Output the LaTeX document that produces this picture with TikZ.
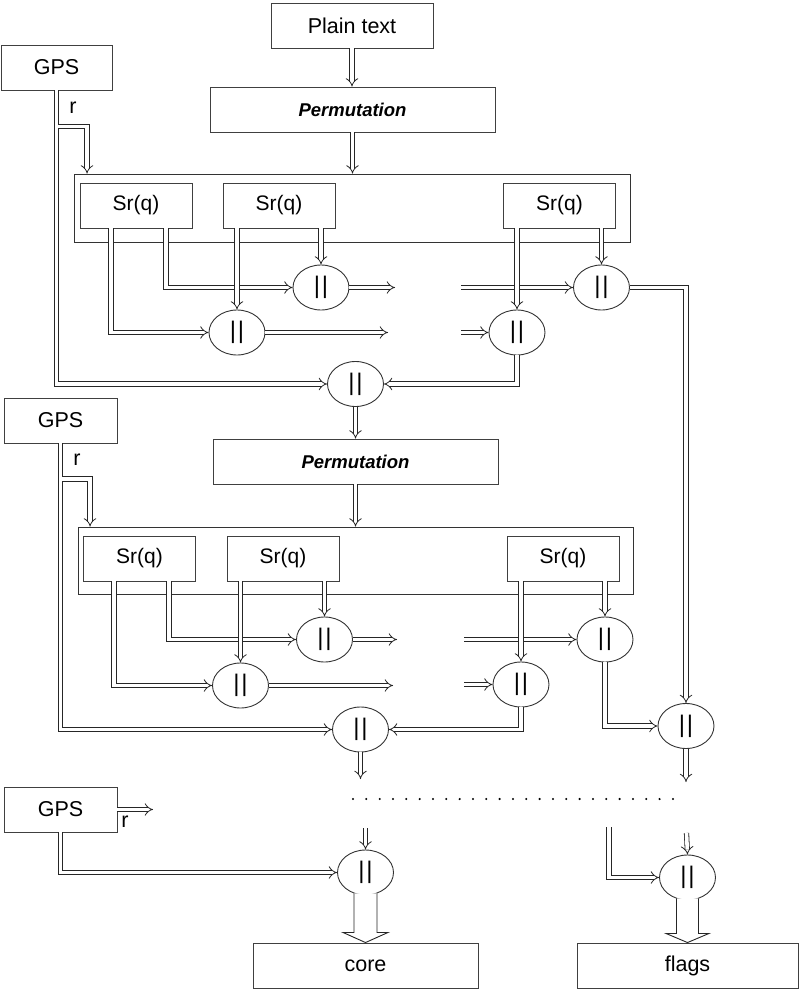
\documentclass[tikz,border=0pt]{standalone}
\usepackage{fontspec}
\setmainfont{Liberation Sans}
\usetikzlibrary{shapes.geometric,arrows.meta,calc}
\newcommand{\bars}{|\kern1.6pt|}
\begin{document}
\begin{tikzpicture}[x=1pt,y=-1pt,
  box/.style={draw=black!75, line width=0.9pt, rectangle, inner sep=0pt, minimum height=45pt, font=\fontsize{21.5}{25}\selectfont},
  sbox/.style={box, minimum width=112pt, font=\fontsize{21}{25}\selectfont},
  permbox/.style={box, minimum width=285pt, font=\fontsize{18.5}{22}\selectfont\bfseries\itshape},
  cont/.style={draw=black!80, line width=0.9pt, rectangle, inner sep=0pt},
  oval/.style={draw=black!80, line width=0.9pt, ellipse, minimum width=56pt, minimum height=45pt, inner sep=0pt, font=\fontsize{24}{26}\selectfont},
  lbl/.style={inner sep=0pt, font=\fontsize{21.5}{25}\selectfont},
  dl/.style={draw=black!85, line width=0.8pt, double=white, double distance=3.6pt},
  dla/.style={dl, -{Implies}},
  bigarrow/.style={draw=black!85, line width=0.9pt, fill=white},
  dots/.style={draw=black, line width=2.3pt, line cap=round, dash pattern=on 0pt off 13.33pt}
]
\useasboundingbox (0,0) rectangle (799,992);

% ---------------- section 1 ----------------
\node[box, minimum width=162pt] (pt) at (352,25.5) {Plain text};
\node[box, minimum width=111pt] (g1) at (56.5,67.5) {GPS};
\node[permbox] (p1) at (352.5,109.5) {Permutation};
\node[cont, minimum width=556pt, minimum height=68pt] (k1) at (352,208) {};
\node[sbox] (a1) at (136,205.5) {Sr(q)};
\node[sbox] (b1) at (279,205.5) {Sr(q)};
\node[sbox] (c1) at (559.5,205.5) {Sr(q)};
\node[oval] (u1) at (321,287.5) {\bars};
\node[oval] (l1) at (237,332.5) {\bars};
\node[oval] (ur1) at (601.5,287.5) {\bars};
\node[oval] (lr1) at (517,332.5) {\bars};
\node[oval] (m1) at (355.5,384) {\bars};
\node[lbl] (r1l) at (73,108) {r};

\coordinate (i1u) at (461,287.5);
\coordinate (i1l) at (461,332.5);
\coordinate (o1u) at (395,287.5);
\coordinate (o1l) at (388,332.5);
\coordinate (r1s) at (58.4,126.5);

\draw[dla] (pt.south) -- (pt.south |- p1.north);
\draw[dla] (p1.south) -- (p1.south |- k1.north);
\draw[dla] (g1.south) |- (m1.west);
\draw[dla] (r1s) -| ([xshift=13.5pt]k1.north west);
\draw[dla] (i1u) -- (ur1.west);
\draw[dla] (i1l) -- (lr1.west);
\draw[dla] ([xshift=-25pt]a1.south) |- (l1.west);
\draw[dla] ([xshift=30pt]a1.south) |- (u1.west);
\draw[dla] (u1.east) -- (o1u);
\draw[dla] (l1.east) -- (o1l);
\draw[dla] (u1.north |- b1.south) -- (u1.north);
\draw[dla] (l1.north |- b1.south) -- (l1.north);
\draw[dla] (ur1.north |- c1.south) -- (ur1.north);
\draw[dla] (lr1.north |- c1.south) -- (lr1.north);
\draw[dla] (lr1.south) |- (m1.east);

% ---------------- section 2 ----------------
\node[box, minimum width=113pt] (g2) at (60.5,420.5) {GPS};
\node[permbox] (p2) at (355.5,461.5) {Permutation};
\node[cont, minimum width=555pt, minimum height=67pt] (k2) at (355.5,560.5) {};
\node[sbox] (a2) at (139.5,558.5) {Sr(q)};
\node[sbox] (b2) at (283,558.5) {Sr(q)};
\node[sbox] (c2) at (563,558.5) {Sr(q)};
\node[oval] (u2) at (324.5,639.5) {\bars};
\node[oval] (l2) at (240.5,685.5) {\bars};
\node[oval] (ur2) at (605,639.5) {\bars};
\node[oval] (lr2) at (521,684.5) {\bars};
\node[oval] (m2) at (360.5,729.5) {\bars};
\node[oval] (f2) at (686,726) {\bars};
\node[lbl] (r2l) at (77,460) {r};

\coordinate (i2u) at (464,639.5);
\coordinate (i2l) at (464,684.5);
\coordinate (o2u) at (397,639.5);
\coordinate (o2l) at (393,685.5);
\coordinate (r2s) at (62.4,479);
\coordinate (m2o) at (360.5,779);
\coordinate (f2o) at (686,782);

\draw[dla] (m1.south) -- (m1.south |- p2.north);
\draw[dla] (p2.south) -- (p2.south |- k2.north);
\draw[dla] (ur1.east) -| (f2.north);
\draw[dla] (g2.south) |- (m2.west);
\draw[dla] (r2s) -| ([xshift=12.5pt]k2.north west);
\draw[dla] (i2u) -- (ur2.west);
\draw[dla] (i2l) -- (lr2.west);
\draw[dla] ([xshift=-25.5pt]a2.south) |- (l2.west);
\draw[dla] ([xshift=29.5pt]a2.south) |- (u2.west);
\draw[dla] (u2.east) -- (o2u);
\draw[dla] (l2.east) -- (o2l);
\draw[dla] (u2.north |- b2.south) -- (u2.north);
\draw[dla] (l2.north |- b2.south) -- (l2.north);
\draw[dla] (ur2.north |- c2.south) -- (ur2.north);
\draw[dla] (lr2.north |- c2.south) -- (lr2.north);
\draw[dla] (lr2.south) |- (m2.east);
\draw[dla] (ur2.south) |- (f2.west);
\draw[dla] (m2.south) -- (m2o);
\draw[dla] (f2.south) -- (f2o);

% ---------------- dots ----------------
\coordinate (d1) at (353,799);
\coordinate (d2) at (680,799);
\draw[dots] (d1) -- (d2);

% ---------------- bottom ----------------
\node[box, minimum width=113pt] (g3) at (60.5,809.5) {GPS};
\node[lbl] (r3l) at (125,822) {r};
\node[oval] (c3) at (365.5,872.5) {\bars};
\node[oval] (f3) at (687.5,877.5) {\bars};
\node[box, minimum width=225pt] (core) at (365.5,965.5) {core};
\node[box, minimum width=221pt] (flags) at (687.5,965.5) {flags};

\coordinate (r3e) at (153,809.5);
\coordinate (t3) at (365.5,828);
\coordinate (t4) at (686.5,833);
\coordinate (t5) at (609,827);

\draw[dla] (g3.east) -- (r3e);
\draw[dla] (g3.south) |- (c3.west);
\draw[dla] (t3) -- (c3.north);
\draw[dla] (t4) -- (f3.north);
\draw[dla] (t5) |- (f3.west);

\draw[bigarrow] ($(c3.south)+(-11.5,-2)$) -- ($(c3.south)+(-11.5,37)$) -- ($(c3.south)+(-22.5,37)$) -- (core.north) -- ($(c3.south)+(22.5,37)$) -- ($(c3.south)+(11.5,37)$) -- ($(c3.south)+(11.5,-2)$);
\draw[bigarrow] ($(f3.south)+(-11,-2)$) -- ($(f3.south)+(-11,33)$) -- ($(f3.south)+(-21.5,33)$) -- (flags.north) -- ($(f3.south)+(21.5,33)$) -- ($(f3.south)+(11,33)$) -- ($(f3.south)+(11,-2)$);
\end{tikzpicture}
\end{document}
